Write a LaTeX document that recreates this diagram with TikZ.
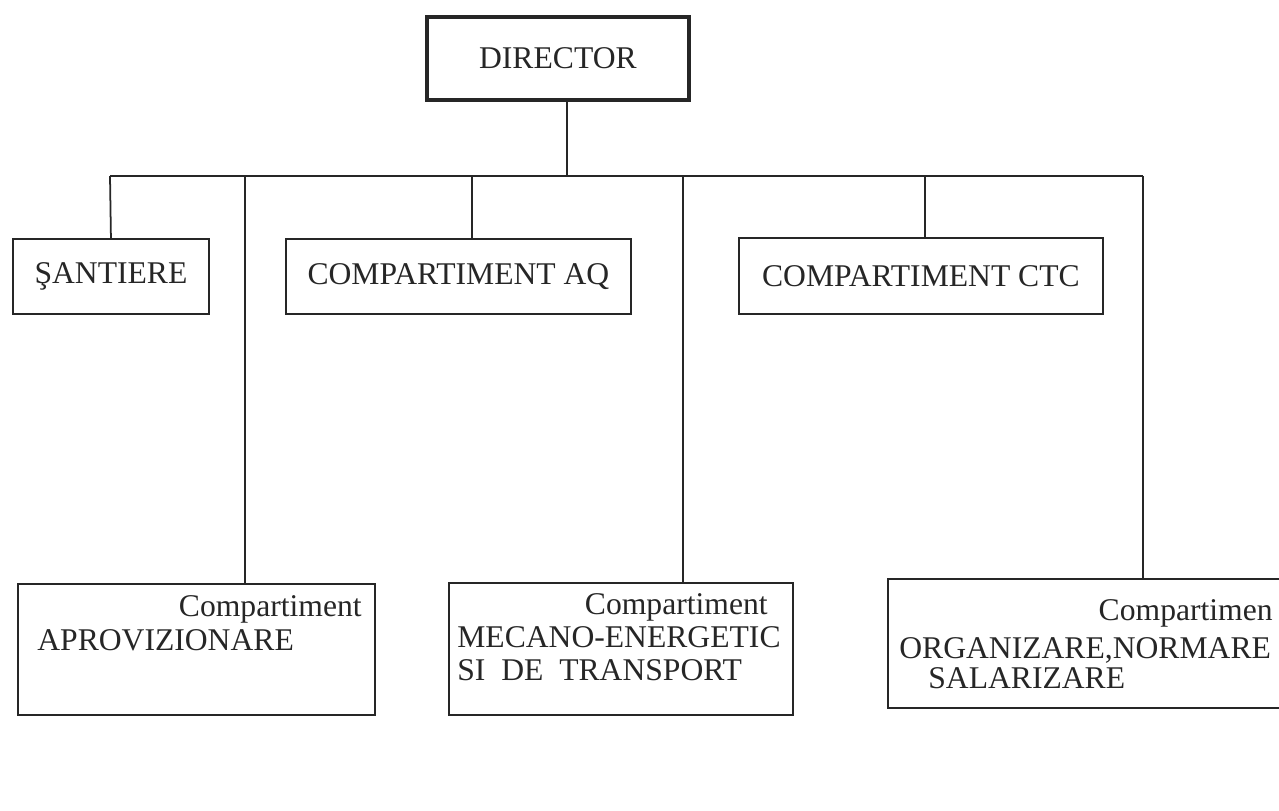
\documentclass[tikz,border=0pt]{standalone}
\usepackage{fontspec}
\setmainfont{Liberation Serif}
\usetikzlibrary{calc}
\tikzset{
  unit/.style={draw=black!85,line width=1.1pt,inner sep=0pt,anchor=north west,
    font=\fontsize{18}{20}\selectfont,text=black!85},
  head/.style={unit,line width=2.2pt},
  link/.style={draw=black!85,line width=1pt},
  lbl/.style={inner sep=0pt,font=\fontsize{18}{20}\selectfont,text=black!85}
}

\begin{document}
\begin{tikzpicture}[x=0.02cm,y=-0.02cm]
    \useasboundingbox (0,0) rectangle (1279,811);
    % top and first row
    \node[head,minimum width=5.24cm,minimum height=1.66cm] (dir) at (425,15) {DIRECTOR};
    \node[unit,minimum width=3.92cm,minimum height=1.5cm] (sant) at (12,238) {ŞANTIERE};
    \node[unit,minimum width=6.9cm,minimum height=1.5cm] (aq) at (285,238) {COMPARTIMENT AQ};
    \node[unit,minimum width=7.28cm,minimum height=1.52cm] (ctc) at (738,237) {COMPARTIMENT CTC};
    % second row
    \node[unit,minimum width=7.14cm,minimum height=2.62cm] (apro) at (17,583) {};
    \node[unit,minimum width=6.88cm,minimum height=2.64cm] (mec) at (448,582) {};
    \node[unit,minimum width=8.4cm,minimum height=2.58cm] (org) at (887,578) {};
    \node[lbl,anchor=base east] (apro1) at (362,616) {Compartiment};
    \node[lbl,anchor=base west] (apro2) at (37,650) {APROVIZIONARE};
    \node[lbl,anchor=base east] (mec1) at (768,614) {Compartiment};
    \node[lbl,anchor=base west] (mec2) at (457,647) {MECANO-ENERGETIC};
    \node[lbl,anchor=base west] (mec3) at (457,680) {SI\ \ DE\ \ TRANSPORT};
    \node[lbl,anchor=base east] (org1) at (1273,620) {Compartimen};
    \node[lbl,anchor=base west] (org2) at (899,658) {ORGANIZARE,NORMARE};
    \node[lbl,anchor=base west] (org3) at (928,688) {SALARIZARE};
    % bus
    \coordinate (busW) at (110,176);
    \coordinate (busE) at (1143,176);
    \coordinate (jD) at (567,176);
    \coordinate (jA) at (245,176);
    \coordinate (jQ) at (472,176);
    \coordinate (jM) at (683,176);
    \coordinate (jC) at (925,176);
    \draw[link] (jD |- dir.south) -- (jD);
    \draw[link] (busW) -- (busE);
    \draw[link] (busW) -- (sant.north);
    \draw[link] (jQ) -- (jQ |- aq.north);
    \draw[link] (jC) -- (jC |- ctc.north);
    \draw[link] (jA) -- (jA |- apro.north);
    \draw[link] (jM) -- (jM |- mec.north);
    \draw[link] (busE) -- (busE |- org.north);
\end{tikzpicture}
\end{document}
